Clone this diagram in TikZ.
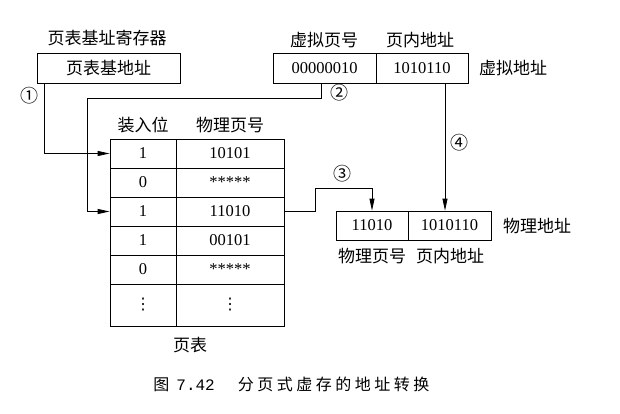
\documentclass[tikz,border=0pt]{standalone}
\usepackage{fontspec}
\setmainfont{Liberation Serif}
\newfontfamily\cjk{Noto Sans CJK SC}
\newfontfamily\cjkcap[LetterSpace=22]{Noto Sans CJK SC}
\newfontfamily\capmono{Liberation Mono}
\newfontfamily\dvs{DejaVu Sans}
\usetikzlibrary{arrows.meta}
\begin{document}
\begin{tikzpicture}[x=1pt,y=-1pt,
  line width=0.8pt,
  cell/.style={draw, inner sep=0pt, minimum height=29pt, font=\fontsize{16.5}{18}\selectfont},
  lbl/.style={inner sep=0pt, font=\cjk\fontsize{17}{19}\selectfont},
  num/.style={inner sep=0pt, font=\cjk\fontsize{18}{20}\selectfont},
  arr/.style={-{Triangle[length=12pt,width=5pt]}}
]
\useasboundingbox (0,0) rectangle (620,414);
% page table base register
\node[cell, minimum width=143pt, minimum height=30pt, font=\cjk\fontsize{17}{19}\selectfont] (reg) at (108.5,68) {页表基地址};
\node[lbl] (reglbl) at (107,38) {页表基址寄存器};
% virtual address
\node[cell, minimum width=103pt, minimum height=30pt] (vp) at (324.5,68) {00000010};
\node[cell, minimum width=92pt, minimum height=30pt] (off) at (422,68) {1010110};
\node[lbl] (vplbl) at (324,40) {虚拟页号};
\node[lbl] (offlbl) at (420,40) {页内地址};
\node[lbl] (valbl) at (513,68) {虚拟地址};
% page table
\node[lbl] (h1) at (143,125) {装入位};
\node[lbl] (h2) at (230,125) {物理页号};
\node[cell, minimum width=66pt] (r1a) at (143,153.5) {1};
\node[cell, minimum width=108pt] (r1b) at (230,153.5) {10101};
\node[cell, minimum width=66pt] (r2a) at (143,182.5) {0};
\node[cell, minimum width=108pt] (r2b) at (230,182.5) {*****};
\node[cell, minimum width=66pt] (r3a) at (143,211.5) {1};
\node[cell, minimum width=108pt] (r3b) at (230,211.5) {11010};
\node[cell, minimum width=66pt] (r4a) at (143,240.5) {1};
\node[cell, minimum width=108pt] (r4b) at (230,240.5) {00101};
\node[cell, minimum width=66pt] (r5a) at (143,269.5) {0};
\node[cell, minimum width=108pt] (r5b) at (230,269.5) {*****};
\node[cell, minimum width=66pt, minimum height=42pt, font=\dvs\fontsize{16}{18}\selectfont] (r6a) at (143,305) {⋮};
\node[cell, minimum width=108pt, minimum height=42pt, font=\dvs\fontsize{16}{18}\selectfont] (r6b) at (230,305) {⋮};
\node[lbl] (ptlbl) at (190,345) {页表};
% physical address
\node[cell, minimum width=72pt] (pp) at (372,225.5) {11010};
\node[cell, minimum width=83pt] (poff) at (449.5,225.5) {1010110};
\node[lbl] (palbl) at (537,226) {物理地址};
\node[lbl] (pplbl) at (372,256) {物理页号};
\node[lbl] (pofflbl) at (450,256) {页内地址};
% step numbers
\node[num] (n1) at (29,96) {①};
\node[num] (n2) at (339,93) {②};
\node[num] (n3) at (342,174) {③};
\node[num] (n4) at (459,143) {④};
% connectors
\coordinate (c1) at (44,0);
\draw[arr] (c1 |- reg.south) |- (r1a.west);
\coordinate (c2a) at (321,98);
\coordinate (c2b) at (87,98);
\draw[arr] (c2a |- vp.south) -- (c2a) -- (c2b) |- (r3a.west);
\coordinate (c3a) at (315,188);
\draw[arr] (r3b.east) -| (c3a) -| (pp.north);
\coordinate (c4) at (445,0);
\draw[arr] (c4 |- off.south) -- (c4 |- poff.north);
% caption
\node[inner sep=0pt, anchor=west] (cap) at (153,384) {{\cjk\fontsize{16}{18}\selectfont 图}\hspace{7pt}{\capmono\fontsize{16}{18}\selectfont 7.42}\hspace{23pt}{\cjkcap\fontsize{16}{18}\selectfont 分页式虚存的地址转换}};
\end{tikzpicture}
\end{document}
